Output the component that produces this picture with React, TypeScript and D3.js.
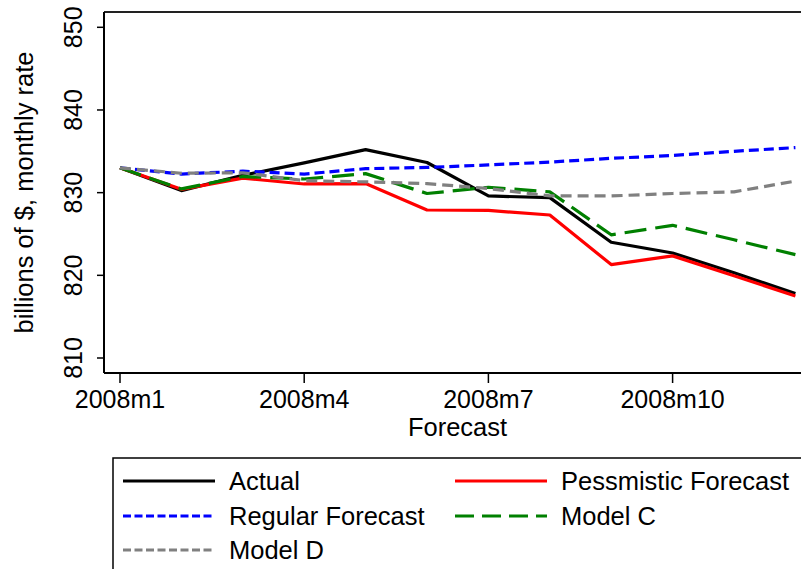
import * as d3 from "d3";

// months shown on the x axis (index 0 = 2008m1)
const months = ["2008m1", "2008m2", "2008m3", "2008m4", "2008m5", "2008m6", "2008m7", "2008m8", "2008m9", "2008m10", "2008m11", "2008m12"];
const xTickIdx = [0, 3, 6, 9];
const yTicks = [810, 820, 830, 840, 850];

const actual = [833.0, 830.25, 832.1, 833.6, 835.2, 833.65, 829.6, 829.4, 824.0, 822.7, 820.3, 817.8];
const pessimistic = [833.0, 830.4, 831.75, 831.05, 831.1, 827.9, 827.85, 827.3, 821.3, 822.35, 819.95, 817.5];
const regular = [833.0, 832.25, 832.6, 832.25, 832.9, 833.05, 833.35, 833.7, 834.15, 834.5, 835.0, 835.45];
const modelC = [833.0, 830.45, 831.95, 831.65, 832.3, 829.9, 830.65, 830.1, 824.9, 826.05, 824.3, 822.5];
const modelD = [833.0, 832.35, 832.4, 831.45, 831.3, 831.1, 830.5, 829.6, 829.6, 829.9, 830.1, 831.4];

const series = [
    { name: "Actual", values: actual, color: "#000000", dash: "", legendDash: "" },
    { name: "Pessmistic Forecast", values: pessimistic, color: "#ff0000", dash: "", legendDash: "" },
    { name: "Regular Forecast", values: regular, color: "#0000ff", dash: "10,5", legendDash: "8,3.5" },
    { name: "Model C", values: modelC, color: "#008000", dash: "22,9", legendDash: "19,8" },
    { name: "Model D", values: modelD, color: "#808080", dash: "11,6", legendDash: "8,3.5" },
];

const W = 801;
const H = 569;
const box = { left: 104, right: 811, top: 12, bottom: 373 };
const font = "'Liberation Sans', Arial, Helvetica, sans-serif";

export default function App() {
    const x = d3.scaleLinear([0, months.length - 1], [120, 795.4]);
    const y = d3.scaleLinear([810, 850], [358, 27.3]);
    const line = d3.line<number>((d, i) => x(i), (d) => y(d));

    const legendX = [123, 455];
    const legendY = [481, 516, 550];

    return (
        <svg width={W} height={H} style={{ position: "absolute", left: 0, top: 0, background: "white" }} fontFamily={font}>
            <rect x={0} y={0} width={W} height={H} fill="white" />
            {/* plot frame */}
            <line x1={box.left} x2={box.right} y1={box.top} y2={box.top} stroke="#222" strokeWidth={2} />
            <line x1={box.left} x2={box.left} y1={box.top} y2={box.bottom} stroke="#000" strokeWidth={2} />
            <line x1={box.left} x2={box.right} y1={box.bottom} y2={box.bottom} stroke="#000" strokeWidth={2} />

            {/* y axis */}
            {yTicks.map((t) => (
                <g key={t}>
                    <line x1={box.left - 7} x2={box.left} y1={y(t)} y2={y(t)} stroke="#000" strokeWidth={1.5} />
                    <text transform={`translate(81.5,${y(t)}) rotate(-90)`} textAnchor="middle" fontSize={25}>{t}</text>
                </g>
            ))}
            <text transform={`translate(33,${(box.top + box.bottom) / 2}) rotate(-90)`} textAnchor="middle" fontSize={25.5}>
                billions of $, monthly rate
            </text>

            {/* x axis */}
            {xTickIdx.map((i) => (
                <g key={i}>
                    <line x1={x(i)} x2={x(i)} y1={box.bottom} y2={box.bottom + 10} stroke="#000" strokeWidth={1.5} />
                    <text x={x(i)} y={408} textAnchor="middle" fontSize={25}>{months[i]}</text>
                </g>
            ))}
            <text x={(box.left + box.right) / 2} y={436} textAnchor="middle" fontSize={25.5}>Forecast</text>

            {/* series */}
            {series.map((s) => (
                <path key={s.name} d={line(s.values) as string} fill="none" stroke={s.color} strokeWidth={3.2}
                    strokeDasharray={s.dash || undefined} strokeLinejoin="round" />
            ))}

            {/* legend */}
            <rect x={113} y={458} width={720} height={140} fill="white" stroke="#000" strokeWidth={1.5} />
            {series.map((s, i) => {
                const lx = legendX[i % 2];
                const ly = legendY[Math.floor(i / 2)];
                return (
                    <g key={s.name}>
                        <line x1={lx} x2={lx + 92} y1={ly} y2={ly} stroke={s.color} strokeWidth={3.2}
                            strokeDasharray={s.legendDash || undefined} />
                        <text x={lx + 106} y={ly + 9} fontSize={25.5}>{s.name}</text>
                    </g>
                );
            })}
        </svg>
    );
}
